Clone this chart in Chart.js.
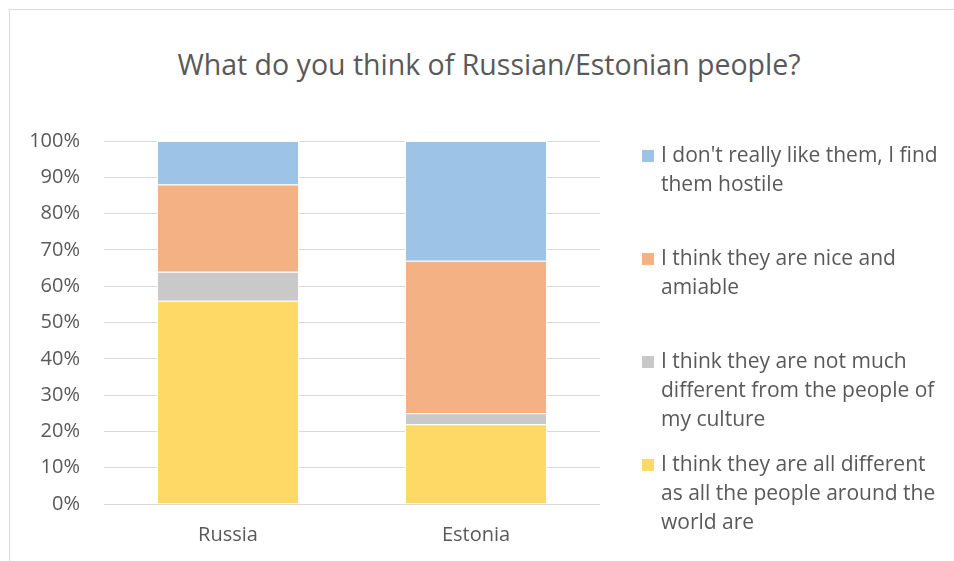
<!DOCTYPE html>
<html>
<head>
<meta charset="utf-8">
<script src="https://cdn.jsdelivr.net/npm/chart.js@4/dist/chart.umd.min.js"></script>
<style>
    body { margin: 0; background: #ffffff; font-family: "Open Sans", sans-serif; }
    #wrap { position: relative; width: 954px; height: 561px; overflow: hidden; }
    #frame {
        position: absolute; left: 9px; top: 9px; width: 1000px; height: 600px;
        border-left: 1px solid #d9d9d9; border-top: 1px solid #d9d9d9;
    }
    #chart-title {
        position: absolute; left: 0; width: 978px; top: 46px;
        text-align: center; font-size: 28.5px; color: #595959; line-height: 36px;
    }
    #legend { position: absolute; left: 642px; top: 141px; }
    .legend-item { height: 103px; display: flex; align-items: flex-start; }
    .legend-box { width: 12px; height: 12px; margin-top: 9px; margin-right: 7px; flex: none; }
    .legend-text { font-size: 21px; line-height: 29px; color: #595959; white-space: nowrap; margin-top: -1px; }
    canvas { position: absolute; left: 0; top: 0; }
</style>
</head>
<body>
<div id="wrap">
    <div id="frame"></div>
    <div id="chart-title">What do you think of Russian/Estonian people?</div>
    <canvas id="surveyChart" width="954" height="561"></canvas>
    <div id="legend"></div>
</div>
<script>
const countries = ['Russia', 'Estonia'];

// 由下往上堆疊的回答（百分比）
const allDifferent = [56, 22];
const notMuchDifferent = [8, 3];
const niceAmiable = [24, 42];
const hostile = [12, 33];

const seriesNames = [
    ['I think they are all different', 'as all the people around the', 'world are'],
    ['I think they are not much', 'different from the people of', 'my culture'],
    ['I think they are nice and', 'amiable'],
    ["I don't really like them, I find", 'them hostile']
];
const seriesColors = ['#ffd966', '#c9c9c9', '#f4b183', '#9dc3e6'];
const yTicks = [0, 10, 20, 30, 40, 50, 60, 70, 80, 90, 100];

const textColor = '#595959';
const gridColor = '#d9d9d9';

function buildDatasets() {
    const values = [allDifferent, notMuchDifferent, niceAmiable, hostile];
    return values.map((data, i) => ({
        label: seriesNames[i].join(' '),
        data: data,
        backgroundColor: seriesColors[i],
        borderColor: '#ffffff',
        borderWidth: 1,
        borderSkipped: 'start',
        barPercentage: 0.573,
        categoryPercentage: 1.0
    }));
}

// 右側圖例：順序與堆疊相反，藍色在最上面
function renderLegend() {
    const container = document.getElementById('legend');
    container.innerHTML = seriesNames
        .map((lines, i) => ({ lines, color: seriesColors[i] }))
        .reverse()
        .map(item => `
            <div class="legend-item">
                <div class="legend-box" style="background:${item.color};"></div>
                <div class="legend-text">${item.lines.join('<br>')}</div>
            </div>
        `)
        .join('');
}

function initChart() {
    const ctx = document.getElementById('surveyChart');
    new Chart(ctx, {
        type: 'bar',
        data: { labels: countries, datasets: buildDatasets() },
        options: {
            responsive: false,
            animation: false,
            layout: { padding: { left: 0, right: 354, top: 141, bottom: 0 } },
            plugins: {
                legend: { display: false },
                title: { display: false },
                tooltip: { enabled: false }
            },
            scales: {
                x: {
                    stacked: true,
                    grid: { display: false, drawTicks: false },
                    border: { display: false },
                    ticks: {
                        color: textColor,
                        padding: 19,
                        font: { family: 'Open Sans', size: 20 }
                    },
                    afterFit: scale => { scale.height = 561 - 504; }
                },
                y: {
                    stacked: true,
                    min: 0,
                    max: 100,
                    afterBuildTicks: scale => {
                        scale.ticks = yTicks.map(v => ({ value: v }));
                    },
                    grid: { color: gridColor, lineWidth: 1, drawTicks: false },
                    border: { display: false },
                    ticks: {
                        color: textColor,
                        padding: 24,
                        font: { family: 'Open Sans', size: 20 },
                        callback: v => v + '%'
                    },
                    afterFit: scale => { scale.width = 104; }
                }
            }
        }
    });
}

document.addEventListener('DOMContentLoaded', () => {
    renderLegend();
    initChart();
});
</script>
</body>
</html>
